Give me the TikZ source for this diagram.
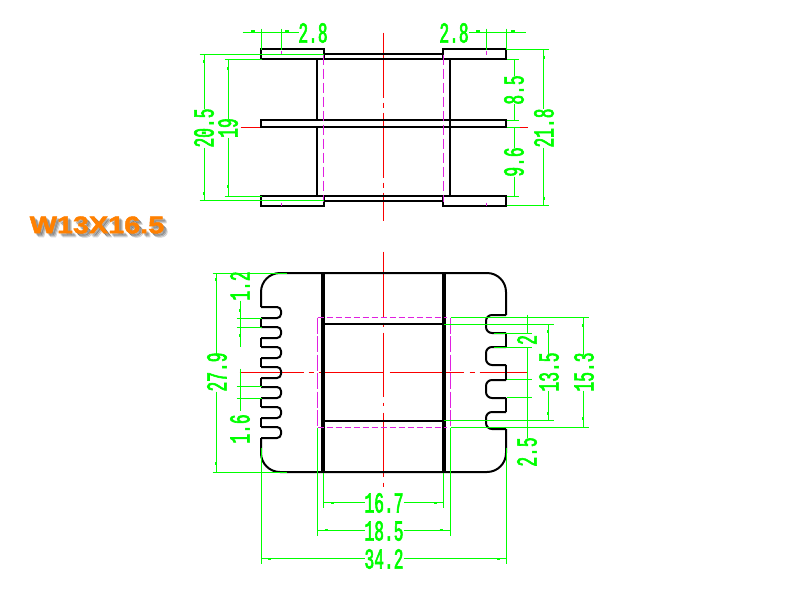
\documentclass[tikz,border=0pt]{standalone}
\usepackage{xcolor}
\usepackage{fontspec}
\newfontfamily\dimfont[FakeStretch=0.56,FakeBold=2]{Liberation Mono}
\newfontfamily\titlefont[FakeStretch=1.2,FakeBold=2]{Liberation Sans Bold}
\definecolor{dimgreen}{RGB}{0,255,0}
\definecolor{hiddenpink}{RGB}{224,32,224}
\definecolor{axisred}{RGB}{250,0,0}
\definecolor{titleorange}{RGB}{255,128,0}
\tikzset{
  thinline/.style={line width=1pt,shift={(0.5,0.5)}},
  part/.style={black,line width=2pt},
  heavy/.style={black,line width=4pt},
  hidden/.style={hiddenpink,thinline,dash pattern=on 10pt off 4pt},
  hiddenlong/.style={hiddenpink,thinline,dash pattern=on 16pt off 2.5pt},
  hiddenflat/.style={hiddenpink,thinline,dash pattern=on 6pt off 3pt},
  hiddentick/.style={hiddenpink,thinline},
  axis/.style={axisred,thinline},
  dimline/.style={dimgreen,thinline},
  blip/.style={dimgreen,line width=2pt},
  dimtext/.style={dimgreen,inner sep=0pt,font=\dimfont\fontsize{29}{29}\selectfont},
  dimup/.style={dimtext,rotate=90},
  titletext/.style={inner sep=0pt,font=\titlefont\fontsize{24}{24}\selectfont}
}
\begin{document}
\begin{tikzpicture}[x=1pt,y=-1pt]
  \useasboundingbox (0,0) rectangle (800,600);
  \fill[white] (0,0) rectangle (800,600);
  % title
  \foreach \i/\dx/\dy/\op in {1/2/2/0.16,2/3/3/0.16,3/4/4/0.12}
    \node[titletext,text=black,opacity=\op] (shade\i) at (97+\dx,225+\dy) {W13X16.5};
  \node[titletext,text=titleorange] (title) at (97,225) {W13X16.5};
  % upper view, centre lines first
  \draw[axis] (383,32) -- (383,97) (383,102) -- (383,107) (383,112) -- (383,177) (383,182) -- (383,187) (383,192) -- (383,220);
  \draw[axis] (240,127) -- (261,127);
  \draw[axis] (506,127) -- (527,127);
  \begin{scope}
    \draw[part] (261,49) rectangle (324,59);
    \draw[part] (443,49) rectangle (506,59);
    \draw[part] (261,196) rectangle (324,206);
    \draw[part] (443,196) rectangle (506,206);
    \draw[part] (261,120) rectangle (506,127);
    \draw[part] (324,54) -- (443,54);
    \draw[part] (324,59) -- (443,59);
    \draw[part] (324,196) -- (443,196);
    \draw[part] (324,201) -- (443,201);
    \draw[part] (317,59) -- (317,120);
    \draw[part] (317,127) -- (317,196);
    \draw[part] (450,59) -- (450,196);
    \draw[hidden] (323,54) -- (323,201);
    \draw[hidden] (443,54) -- (443,201);
    \draw[hiddentick] (281,50) -- (281,54);
    \draw[hiddentick] (281,202) -- (281,205);
    \draw[hiddentick] (486,50) -- (486,54);
    \draw[hiddentick] (486,202) -- (486,205);
  \end{scope}
  % upper view, dimensions
  \begin{scope}
    \draw[dimline] (242,32) -- (298,32);
    \draw[dimline] (261,28) -- (261,49);
    \draw[dimline] (281,28) -- (281,49);
    \node[dimtext] (pinleft) at (313,33) {2.8};
    \draw[dimline] (468,32) -- (525,32);
    \draw[dimline] (486,28) -- (486,49);
    \draw[dimline] (506,28) -- (506,49);
    \node[dimtext] (pinright) at (454,33) {2.8};
    \draw[dimline] (199,54) -- (323,54);
    \draw[dimline] (199,200) -- (323,200);
    \draw[dimline] (204,54) -- (204,108);
    \draw[dimline] (204,147) -- (204,200);
    \node[dimup] (spanouter) at (204,128) {20.5};
    \draw[dimline] (224,59) -- (261,59);
    \draw[dimline] (224,196) -- (261,196);
    \draw[dimline] (228,59) -- (228,118);
    \draw[dimline] (228,137) -- (228,196);
    \node[dimup] (spaninner) at (228,128) {19};
    \draw[dimline] (506,49) -- (548,49);
    \draw[dimline] (506,205) -- (548,205);
    \draw[dimline] (543,49) -- (543,108);
    \draw[dimline] (543,147) -- (543,205);
    \node[dimup] (spanall) at (544,128) {21.8};
    \draw[dimline] (506,59) -- (518,59);
    \draw[dimline] (506,120) -- (518,120);
    \draw[dimline] (506,127) -- (519,127);
    \draw[dimline] (506,196) -- (518,196);
    \draw[dimline] (514,59) -- (514,75);
    \draw[dimline] (514,103) -- (514,120);
    \draw[dimline] (514,127) -- (514,147);
    \draw[dimline] (514,176) -- (514,196);
    \node[dimup] (gapupper) at (514,90) {8.5};
    \node[dimup] (gaplower) at (514,162) {9.6};
    \foreach \x in {253,287,478,513}
      \draw[blip] (\x-2,31) -- (\x+2,31);
    \foreach \x/\y in {204/61,204/193,228/68,228/186,544/57,544/198}
      \draw[blip] (\x,\y-1.5) -- (\x,\y+1.5);
  \end{scope}
  % lower view, centre lines
  \draw[axis] (383,251) -- (383,316) (383,322) -- (383,326) (383,332) -- (383,396) (383,402) -- (383,405) (383,412) -- (383,476) (383,482) -- (383,486);
  \draw[axis] (239,372) -- (303,372) (308,372) -- (313,372) (318,372) -- (383,372) (389,372) -- (463,372) (469,372) -- (474,372) (479,372) -- (527,372);
  % lower view, body with the two combs
  \begin{scope}
    \draw[part,rounded corners=19pt] (261,307) -- (261,273) -- (506,273) -- (506,315);
    \draw[part,rounded corners=19pt] (261,438) -- (261,472) -- (506,472) -- (506,429);
    \foreach \a/\b in {307/318,327/338,347/358,367/378,387/398,407/418,427/438}
      \draw[part,rounded corners=4pt] (261,\a) -- (281,\a) -- (281,\b) -- (261,\b);
    \foreach \a/\b in {318/327,338/347,358/367,378/387,398/407,418/427}
      \draw[part] (261,\a) -- (261,\b);
    \foreach \a/\b in {315/333,347/365,380/398,412/429}
      \draw[part,rounded corners=6pt] (506,\a) -- (486,\a) -- (486,\b) -- (506,\b);
    \foreach \a/\b in {333/347,365/380,398/412}
      \draw[part] (506,\a) -- (506,\b);
    \draw[heavy] (323,273) -- (323,472);
    \draw[heavy] (444,273) -- (444,472);
    \draw[part] (323,324) -- (444,324);
    \draw[part] (323,421) -- (444,421);
    \draw[hiddenflat] (317,317) -- (446,317);
    \draw[hiddenflat] (317,427) -- (446,427);
    \draw[hiddenlong] (317,317) -- (317,427);
    \draw[hiddenlong] (450,317) -- (450,427);
  \end{scope}
  % lower view, dimensions
  \begin{scope}
    \draw[dimline] (212,273) -- (286,273);
    \draw[dimline] (212,472) -- (286,472);
    \draw[dimline] (216,273) -- (216,354);
    \draw[dimline] (216,391) -- (216,472);
    \node[dimup] (bodyheight) at (217,372) {27.9};
    \draw[dimline] (236,318) -- (261,318);
    \draw[dimline] (236,327) -- (261,327);
    \draw[dimline] (240,300) -- (240,346);
    \node[dimup] (slotwidth) at (240,286) {1.2};
    \draw[dimline] (236,386) -- (261,386);
    \draw[dimline] (236,398) -- (261,398);
    \draw[dimline] (240,368) -- (240,410);
    \node[dimup] (slotpitch) at (240,429) {1.6};
    \draw[dimline] (261,447) -- (261,563);
    \draw[dimline] (506,447) -- (506,563);
    \draw[dimline] (261,558) -- (364,558);
    \draw[dimline] (403,558) -- (506,558);
    \node[dimtext] (bodywidth) at (384,559) {34.2};
    \draw[dimline] (317,427) -- (317,535);
    \draw[dimline] (450,427) -- (450,535);
    \draw[dimline] (317,530) -- (364,530);
    \draw[dimline] (403,530) -- (450,530);
    \node[dimtext] (coreouter) at (384,531) {18.5};
    \draw[dimline] (323,472) -- (323,507);
    \draw[dimline] (443,472) -- (443,507);
    \draw[dimline] (323,502) -- (364,502);
    \draw[dimline] (403,502) -- (443,502);
    \node[dimtext] (coreinner) at (384,503) {16.7};
    \draw[dimline] (450,317) -- (588,317);
    \draw[dimline] (450,427) -- (588,427);
    \draw[dimline] (583,317) -- (583,354);
    \draw[dimline] (583,390) -- (583,427);
    \node[dimup] (windowouter) at (584,372) {15.3};
    \draw[dimline] (443,324) -- (553,324);
    \draw[dimline] (443,420) -- (553,420);
    \draw[dimline] (548,324) -- (548,354);
    \draw[dimline] (548,390) -- (548,420);
    \node[dimup] (windowinner) at (549,372) {13.5};
    \draw[dimline] (493,333) -- (531,333);
    \draw[dimline] (493,347) -- (531,347);
    \draw[dimline] (506,379) -- (531,379);
    \draw[dimline] (506,397) -- (531,397);
    \draw[dimline] (527,314) -- (527,333);
    \draw[dimline] (527,347) -- (527,437);
    \node[dimup] (slotright) at (527,340) {2};
    \node[dimup] (toothright) at (527,452) {2.5};
    \foreach \x/\y in {269/559,498/559,326/530,441/530,332/503,435/503}
      \draw[blip] (\x-1.5,\y) -- (\x+1.5,\y);
    \foreach \x/\y in {216/279,216/463,583/325,583/418,548/331,548/413,240/310,240/335}
      \draw[blip] (\x,\y-1.5) -- (\x,\y+1.5);
  \end{scope}
\end{tikzpicture}
\end{document}
